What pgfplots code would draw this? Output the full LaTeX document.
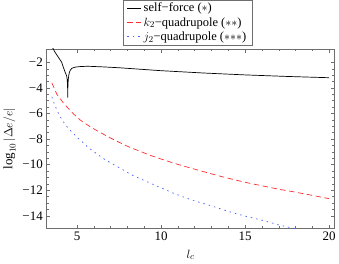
\documentclass[border=0pt]{standalone}
\usepackage{fontspec}
\setmainfont{Liberation Serif}
\usepackage{pgfplots}
\pgfplotsset{compat=1.18}
\definecolor{mred}{RGB}{255,45,45}
\definecolor{mblue}{RGB}{70,95,255}
\definecolor{framegray}{RGB}{110,110,110}
\begin{document}
\begin{tikzpicture}
\begin{axis}[
  scale only axis, width=289pt, height=180pt,
  xmin=3.17, xmax=20.33, ymin=-15, ymax=-0.95,
  axis line style={framegray, line width=0.6pt},
  tick style={framegray, line width=0.5pt},
  tick align=inside,
  major tick length=4pt, minor tick length=2.5pt,
  xtick={5,10,15,20}, xticklabels={5,10,15,20}, minor x tick num=4,
  ytick={-14,-12,-10,-8,-6,-4,-2},
  yticklabels={−14,−12,−10,−8,−6,−4,−2}, minor y tick num=3,
  ticklabel style={font=\fontsize{13}{15}\selectfont},
  xlabel={$l_c$}, ylabel={$\log_{10}|\Delta e/e|$},
  label style={font=\fontsize{13}{15}\selectfont},
  xlabel style={yshift=-2pt},
  legend style={at={(0.49,1)}, anchor=south, yshift=4pt, draw=framegray,
    font=\fontsize{12.5}{14}\selectfont, legend cell align=left,
    inner xsep=4pt, inner ysep=1pt, row sep=0pt},
  legend image code/.code={\draw[#1] (0pt,0pt) -- (14pt,0pt);},
]
\addplot[black, line width=0.7pt] coordinates {
(3.5,-0.75) (3.69,-1.21) (3.89,-1.60) (4.08,-1.98) (4.18,-2.37) (4.30,-2.80)
(4.38,-3.05) (4.41,-3.3) (4.425,-3.6) (4.437,-4.0) (4.445,-4.75) (4.453,-4.0)
(4.465,-3.6) (4.48,-3.3) (4.51,-3.0) (4.54,-2.80) (4.60,-2.60) (4.68,-2.48)
(4.77,-2.42) (4.9,-2.37) (5.17,-2.33) (5.5,-2.31) (5.76,-2.31) (6.5,-2.35)
(7.5,-2.42) (10,-2.65) (12.5,-2.83) (15,-2.98) (17.5,-3.10) (20,-3.20)
};
\addlegendentry{self−force (${\ast}$)}
\addplot[mred, line width=0.7pt, dash pattern=on 5.5pt off 3.5pt] coordinates {
(3.5,-3.6) (3.8,-4.5) (4.2,-5.2) (4.7,-5.92) (5.2,-6.52) (5.8,-7.05) (6.4,-7.5)
(7.0,-7.92) (7.5,-8.25) (8.1,-8.62) (8.7,-8.93) (9.3,-9.24) (9.9,-9.52)
(11.0,-9.98) (11.8,-10.28) (13.0,-10.72) (13.8,-11.0) (15.0,-11.38)
(15.7,-11.57) (17.0,-11.92) (17.7,-12.08) (19.0,-12.4) (20,-12.66)
};
\addlegendentry{$k_2$−quadrupole (${\ast}{\ast}$)}
\addplot[mblue, line width=0.7pt, dash pattern=on 1.5pt off 4pt] coordinates {
(3.5,-4.7) (3.65,-5.25) (3.83,-5.82) (4.0,-6.25) (4.22,-6.71) (4.48,-7.17)
(4.77,-7.55) (5.07,-7.94) (5.36,-8.28) (5.66,-8.66) (5.99,-8.97) (6.35,-9.32)
(6.69,-9.63) (7.04,-9.88) (7.38,-10.14) (7.73,-10.40) (8.09,-10.68)
(8.43,-10.92) (8.82,-11.13) (9.17,-11.34) (9.57,-11.57) (9.94,-11.77)
(10.69,-12.21) (11.48,-12.60) (12.27,-12.94) (13.06,-13.25) (13.85,-13.59)
(14.64,-13.90) (15.43,-14.16) (16.21,-14.41) (17.01,-14.72) (17.79,-14.95)
(18.5,-15.15)
};
\addlegendentry{$j_2$−quadrupole (${\ast}{\ast}{\ast}$)}
\end{axis}
\end{tikzpicture}
\end{document}
